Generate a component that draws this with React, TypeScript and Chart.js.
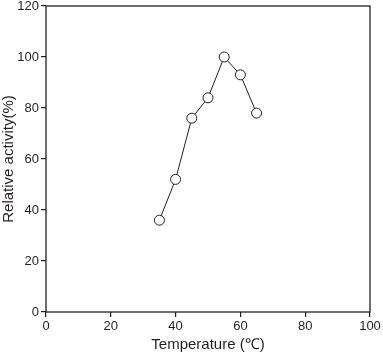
import React, { useEffect, useRef } from "react";
import { Chart, registerables } from "chart.js";

Chart.register(...registerables);

const temperatures = [35, 40, 45, 50, 55, 60, 65];
const activity = [36, 52, 76, 84, 100, 93, 78];
const xTicks = [0, 20, 40, 60, 80, 100];
const yTicks = [0, 20, 40, 60, 80, 100, 120];
const xTitle = "Temperature (\u2103)";
const yTitle = "Relative activity(%)";

const INK = "#231f20";
const FONT = "'Liberation Sans', Arial, Helvetica, sans-serif";

const boxPlugin = {
  id: "boxPlugin",
  afterDraw(chart: any) {
    const { ctx, chartArea } = chart;
    ctx.save();
    ctx.strokeStyle = INK;
    ctx.lineWidth = 1.3;
    ctx.strokeRect(chartArea.left, chartArea.top, chartArea.right - chartArea.left, chartArea.bottom - chartArea.top);
    ctx.restore();
  },
};

export default function App() {
  const ref = useRef<HTMLCanvasElement>(null);
  useEffect(() => {
    document.body.style.margin = "0";
    const chart = new Chart(ref.current!, {
      type: "line",
      data: {
        datasets: [
          {
            data: temperatures.map((t, i) => ({ x: t, y: activity[i] })),
            borderColor: INK,
            borderWidth: 1,
            pointRadius: 5,
            pointBorderWidth: 1,
            pointBackgroundColor: "#ffffff",
            pointBorderColor: INK,
            tension: 0,
          },
        ],
      },
      options: {
        animation: false,
        responsive: false,
        maintainAspectRatio: false,
        layout: { padding: { top: 5, right: 13, left: 0, bottom: 0 } },
        plugins: { legend: { display: false }, tooltip: { enabled: false } },
        scales: {
          x: {
            type: "linear",
            min: 0,
            max: 100,
            afterBuildTicks: (s: any) => {
              s.ticks = xTicks.map((v) => ({ value: v }));
            },
            afterFit: (s: any) => {
              s.height = 42;
              s.paddingLeft = 0;
              s.paddingRight = 0;
            },
            border: { display: false },
            grid: { drawOnChartArea: false, drawTicks: true, tickLength: 5, color: INK, lineWidth: 1.2 },
            ticks: { color: INK, font: { family: FONT, size: 13 }, padding: 2, maxRotation: 0 },
            title: { display: true, text: xTitle, color: INK, font: { family: FONT, size: 15 }, padding: { top: 2, bottom: 0 } },
          },
          y: {
            type: "linear",
            min: 0,
            max: 120,
            afterBuildTicks: (s: any) => {
              s.ticks = yTicks.map((v) => ({ value: v }));
            },
            afterFit: (s: any) => {
              s.width = 46;
              s.paddingTop = 0;
              s.paddingBottom = 0;
            },
            border: { display: false },
            grid: { drawOnChartArea: false, drawTicks: true, tickLength: 5, color: INK, lineWidth: 1.2 },
            ticks: { color: INK, font: { family: FONT, size: 13 }, padding: 2 },
            title: { display: true, text: yTitle, color: INK, font: { family: FONT, size: 15 }, padding: { top: 0, bottom: 2 } },
          },
        },
      },
      plugins: [boxPlugin],
    });
    return () => chart.destroy();
  }, []);
  return (
    <div style={{ width: 383, height: 354 }}>
      <canvas ref={ref} width={383} height={354} style={{ display: "block" }} />
    </div>
  );
}
